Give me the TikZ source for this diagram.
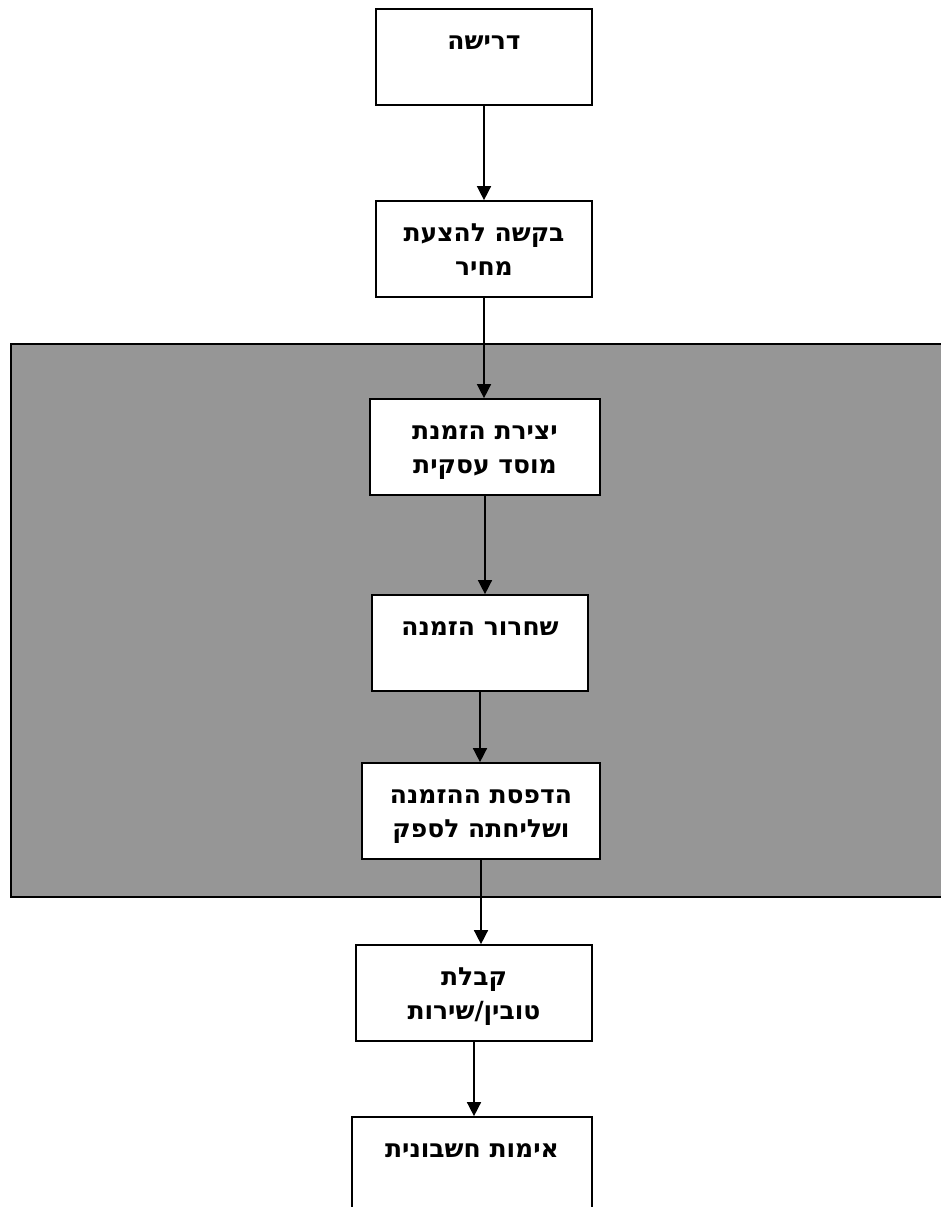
\documentclass[tikz,border=0pt]{standalone}
\usepackage{fontspec}
\newfontfamily\hebfont[Script=Hebrew]{DejaVu Sans}
\TeXXeTstate=1
\usetikzlibrary{arrows.meta}
\definecolor{boxgray}{RGB}{150,150,150}
\newcommand{\steptext}[1]{\parbox[c][96pt][t]{210pt}{\centering\rule{0pt}{40pt}#1}}

\begin{document}
\begin{tikzpicture}[
x=1pt,y=-1pt,
stepbox/.style={draw,fill=white,line width=1.7pt,inner sep=0pt,
  font=\fontsize{25}{34}\hebfont\bfseries\selectfont},
>={Triangle[width=14pt,length=14pt]}]
\useasboundingbox (0,0) rectangle (941,1207);
\clip (0,0) rectangle (941,1207);
% shaded region
\draw[fill=boxgray,line width=2pt] (11,344) rectangle (960,897);
\node[stepbox,minimum width=216pt] (drisha) at (484,57) {\steptext{\beginR דרישה\endR}};
\node[stepbox,minimum width=216pt] (bakasha) at (484,249) {\steptext{\beginR בקשה להצעת\endR\\\beginR מחיר\endR}};
\node[stepbox,minimum width=230pt] (yetzira) at (485,447) {\steptext{\beginR יצירת הזמנת\endR\\\beginR מוסד עסקית\endR}};
\node[stepbox,minimum width=216pt] (shichrur) at (480,643) {\steptext{\beginR שחרור הזמנה\endR}};
\node[stepbox,minimum width=238pt] (hadpasa) at (481,811) {\steptext{\beginR הדפסת ההזמנה\endR\\\beginR ושליחתה לספק\endR}};
\node[stepbox,minimum width=236pt] (kabala) at (474,993) {\steptext{\beginR קבלת\endR\\\beginR טובין/שירות\endR}};
\node[stepbox,minimum width=240pt] (imut) at (472,1165) {\steptext{\beginR אימות חשבונית\endR}};
% arrows
\draw[->,line width=1.5pt] (drisha.south) -- (drisha.south |- bakasha.north);
\draw[->,line width=1.5pt] (bakasha.south) -- (bakasha.south |- yetzira.north);
\draw[->,line width=1.5pt] (yetzira.south) -- (yetzira.south |- shichrur.north);
\draw[->,line width=1.5pt] (shichrur.south) -- (shichrur.south |- hadpasa.north);
\draw[->,line width=1.5pt] (hadpasa.south) -- (hadpasa.south |- kabala.north);
\draw[->,line width=1.5pt] (kabala.south) -- (kabala.south |- imut.north);
\end{tikzpicture}
\end{document}
